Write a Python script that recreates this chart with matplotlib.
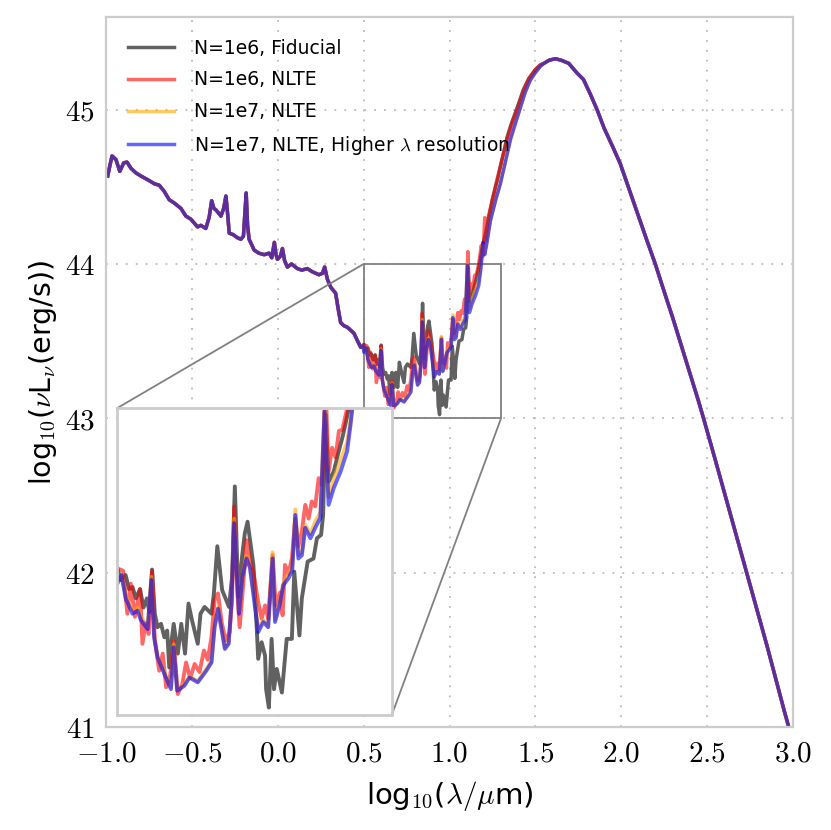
import numpy as np
import matplotlib.pyplot as plt
from matplotlib.ticker import FuncFormatter, MultipleLocator
from mpl_toolkits.axes_grid1.inset_locator import mark_inset

plt.rcParams['mathtext.fontset'] = 'cm'
plt.rcParams['font.family'] = 'DejaVu Sans'

# UV side, all runs agree here
lam_uv = [-0.99, -0.981, -0.965, -0.942, -0.92, -0.897, -0.878, -0.855, -0.826, -0.797,
          -0.758, -0.719, -0.69, -0.661, -0.632, -0.603, -0.564, -0.535, -0.506, -0.467,
          -0.448, -0.419, -0.40, -0.385, -0.372, -0.36, -0.345, -0.331, -0.315, -0.302,
          -0.29, -0.283, -0.26, -0.235, -0.215, -0.2, -0.19, -0.184, -0.176, -0.167,
          -0.15, -0.138, -0.11, -0.079, -0.05, -0.035, -0.02, -0.01, -0.002, 0.015,
          0.027, 0.04, 0.056, 0.08, 0.114, 0.14, 0.172, 0.2, 0.24, 0.26,
          0.273, 0.289, 0.308, 0.337, 0.35, 0.366, 0.385, 0.405, 0.425, 0.444,
          0.465, 0.483, 0.497]
lum_uv = [44.57, 44.62, 44.70, 44.676, 44.60, 44.655, 44.66, 44.62, 44.59, 44.57,
          44.546, 44.52, 44.51, 44.47, 44.416, 44.395, 44.36, 44.31, 44.29, 44.24,
          44.25, 44.23, 44.30, 44.41, 44.36, 44.35, 44.33, 44.31, 44.36, 44.44,
          44.30, 44.20, 44.19, 44.17, 44.16, 44.18, 44.35, 44.46, 44.25, 44.16,
          44.12, 44.09, 44.07, 44.06, 44.07, 44.04, 44.14, 44.06, 44.03, 44.05,
          44.10, 44.02, 43.98, 44.00, 43.97, 43.96, 43.97, 43.95, 43.93, 43.94,
          43.98, 43.90, 43.85, 43.81, 43.72, 43.62, 43.60, 43.59, 43.57, 43.55,
          43.50, 43.46, 43.47]

# IR side, all runs agree here
lam_ir = [1.55, 1.58, 1.616, 1.65, 1.694, 1.74, 1.78, 1.82, 1.859, 1.9,
          1.95, 1.994, 2.05, 2.1, 2.15, 2.198, 2.25, 2.3, 2.35, 2.4,
          2.45, 2.479, 2.55, 2.6, 2.65, 2.7, 2.73, 2.8, 2.85, 2.9,
          2.95, 2.975]
lum_ir = [45.30, 45.32, 45.33, 45.32, 45.30, 45.24, 45.195, 45.10, 45.0, 44.88,
          44.76, 44.65, 44.47, 44.31, 44.15, 44.0, 43.82, 43.65, 43.47, 43.29,
          43.11, 43.0, 42.72, 42.52, 42.32, 42.12, 42.0, 41.72, 41.52, 41.31,
          41.1, 41.0]

# middle part, N=1e6 fiducial
lam_fid = [0.501, 0.511, 0.525, 0.535, 0.545, 0.555, 0.567, 0.577, 0.587, 0.594,
           0.602, 0.61, 0.618, 0.628, 0.638, 0.646, 0.652, 0.659, 0.665, 0.677,
           0.687, 0.698, 0.708, 0.718, 0.735, 0.743, 0.755, 0.775, 0.782, 0.792,
           0.806, 0.826, 0.835, 0.843, 0.853, 0.864, 0.872, 0.88, 0.897, 0.906,
           0.911, 0.921, 0.931, 0.934, 0.942, 0.95, 0.957, 0.965, 0.98, 0.989,
           0.994, 1.009, 1.016, 1.031, 1.038, 1.055, 1.072, 1.082, 1.094, 1.1,
           1.107, 1.116, 1.131, 1.143, 1.156, 1.165, 1.175, 1.19, 1.21, 1.25,
           1.28, 1.3, 1.335, 1.36, 1.393, 1.43, 1.461, 1.5, 1.529]
lum_fid = [43.478, 43.44, 43.456, 43.41, 43.417, 43.38, 43.41, 43.35, 43.38, 43.335,
           43.474, 43.33, 43.286, 43.297, 43.253, 43.275, 43.155, 43.243, 43.297, 43.2,
           43.297, 43.2, 43.363, 43.31, 43.232, 43.33, 43.352, 43.33, 43.396, 43.55,
           43.407, 43.352, 43.45, 43.745, 43.385, 43.516, 43.592, 43.63, 43.489, 43.3,
           43.183, 43.237, 43.193, 43.084, 43.024, 43.248, 43.084, 43.15, 43.073, 43.183,
           43.248, 43.248, 43.467, 43.259, 43.38, 43.5, 43.51, 43.576, 43.587, 43.652,
           43.98, 43.76, 43.794, 43.849, 43.904, 43.948, 44.0, 44.1, 44.2, 44.42,
           44.55, 44.65, 44.82, 44.91, 45.01, 45.13, 45.2, 45.26, 45.29]

# middle part, N=1e6 NLTE
lam_n6 = [0.501, 0.518, 0.53, 0.54, 0.552, 0.567, 0.574, 0.583, 0.592, 0.602,
          0.61, 0.623, 0.633, 0.643, 0.655, 0.665, 0.677, 0.69, 0.701, 0.713,
          0.726, 0.74, 0.753, 0.764, 0.775, 0.784, 0.794, 0.805, 0.816, 0.828,
          0.835, 0.841, 0.85, 0.857, 0.867, 0.877, 0.887, 0.897, 0.911, 0.921,
          0.931, 0.94, 0.953, 0.962, 0.975, 0.982, 0.989, 0.999, 1.009, 1.019,
          1.028, 1.038, 1.048, 1.058, 1.067, 1.077, 1.087, 1.097, 1.107, 1.116,
          1.126, 1.136, 1.146, 1.156, 1.17, 1.185, 1.195, 1.205, 1.212, 1.225,
          1.25, 1.277, 1.3, 1.335, 1.36, 1.393, 1.43, 1.461, 1.5, 1.529]
lum_n6 = [43.478, 43.47, 43.33, 43.428, 43.32, 43.41, 43.232, 43.3, 43.264, 43.47,
          43.243, 43.144, 43.2, 43.09, 43.13, 43.24, 43.068, 43.1, 43.171, 43.12,
          43.166, 43.14, 43.21, 43.18, 43.253, 43.374, 43.396, 43.3, 43.243, 43.27,
          43.38, 43.68, 43.4, 43.286, 43.42, 43.57, 43.5, 43.467, 43.368, 43.314,
          43.357, 43.314, 43.521, 43.357, 43.4, 43.325, 43.489, 43.46, 43.51, 43.64,
          43.55, 43.598, 43.685, 43.64, 43.696, 43.68, 43.772, 43.75, 44.08, 43.794,
          43.871, 43.84, 43.926, 43.93, 44.0, 44.12, 44.05, 44.3, 44.15, 44.3,
          44.42, 44.55, 44.65, 44.81, 44.9, 45.0, 45.12, 45.2, 45.26, 45.29]

# middle part, N=1e7 runs (same wavelength points)
lam_n7 = [0.501, 0.513, 0.525, 0.545, 0.56, 0.569, 0.589, 0.6, 0.608, 0.618,
          0.638, 0.647, 0.657, 0.665, 0.675, 0.696, 0.711, 0.735, 0.76, 0.775,
          0.784, 0.794, 0.814, 0.825, 0.833, 0.841, 0.855, 0.865, 0.877, 0.887,
          0.901, 0.911, 0.926, 0.94, 0.953, 0.96, 0.973, 0.984, 0.999, 1.01,
          1.019, 1.028, 1.038, 1.048, 1.063, 1.077, 1.092, 1.104, 1.116, 1.131,
          1.151, 1.17, 1.18, 1.185, 1.195, 1.205, 1.215, 1.238, 1.27, 1.296,
          1.325, 1.355, 1.38, 1.409, 1.44, 1.47, 1.5, 1.529]
lum_n7 = [43.44, 43.456, 43.39, 43.34, 43.35, 43.32, 43.29, 43.45, 43.26, 43.19,
          43.14, 43.115, 43.09, 43.23, 43.085, 43.1, 43.125, 43.11, 43.15, 43.175,
          43.29, 43.35, 43.22, 43.235, 43.37, 43.64, 43.34, 43.45, 43.52, 43.48,
          43.37, 43.28, 43.31, 43.29, 43.53, 43.31, 43.365, 43.43, 43.46, 43.48,
          43.67, 43.52, 43.53, 43.62, 43.59, 43.63, 43.66, 44.0, 43.71, 43.77,
          43.83, 43.89, 43.96, 44.0, 44.12, 44.07, 44.12, 44.28, 44.42, 44.52,
          44.66, 44.8, 44.89, 45.0, 45.11, 45.19, 45.24, 45.28]
lum_n7hr = [43.428, 43.456, 43.38, 43.33, 43.34, 43.31, 43.28, 43.44, 43.253, 43.188,
            43.133, 43.11, 43.084, 43.22, 43.079, 43.095, 43.122, 43.106, 43.144, 43.171,
            43.286, 43.346, 43.215, 43.232, 43.363, 43.625, 43.33, 43.45, 43.51, 43.48,
            43.357, 43.27, 43.303, 43.286, 43.51, 43.303, 43.357, 43.423, 43.445, 43.47,
            43.652, 43.51, 43.52, 43.61, 43.576, 43.61, 43.643, 43.99, 43.685, 43.74,
            43.794, 43.86, 43.948, 44.0, 44.14, 44.06, 44.12, 44.28, 44.42, 44.52,
            44.66, 44.81, 44.9, 45.0, 45.11, 45.19, 45.24, 45.28]

labels = ['N=1e6, Fiducial', 'N=1e6, NLTE', 'N=1e7, NLTE',
          r'N=1e7, NLTE, Higher $\lambda$ resolution']
colors = ['k', 'red', 'orange', 'blue']
alphas = [0.62, 0.6, 0.6, 0.6]


def full(lam_mid, lum_mid):
    x = np.concatenate([lam_uv, lam_mid, lam_ir])
    y = np.concatenate([lum_uv, lum_mid, lum_ir])
    return x, y


series = [full(lam_fid, lum_fid), full(lam_n6, lum_n6),
          full(lam_n7, lum_n7), full(lam_n7, lum_n7hr)]

fig = plt.figure(figsize=(8.31, 8.30), dpi=100)
ax = fig.add_axes([0.1276, 0.1241, 0.8267, 0.8554])
ax.set_axisbelow(True)

for (x, y), c, a, lab in zip(series, colors, alphas, labels):
    ax.plot(x, y, color=c, alpha=a, lw=2.5, label=lab)

ax.set_xlim(-1.0, 3.0)
ax.set_ylim(41, 45.6)
ax.xaxis.set_major_locator(MultipleLocator(0.5))
ax.yaxis.set_major_locator(MultipleLocator(1))
ax.xaxis.set_major_formatter(FuncFormatter(lambda v, p: r'$%.1f$' % v))
ax.yaxis.set_major_formatter(FuncFormatter(lambda v, p: r'$%d$' % round(v)))
ax.tick_params(length=0, pad=8, labelsize=21)
ax.tick_params(axis='x', pad=9)
ax.grid(True, color='#bbbbbb', lw=1.3, ls=(0, (1, 4.5)))
for s in ax.spines.values():
    s.set_color('#cccccc')
    s.set_linewidth(1.6)

ax.set_xlabel(r'log$_{10}$($\lambda/\mu$m)', fontsize=21, labelpad=8)
ax.set_ylabel(r'log$_{10}$($\nu$L$_\nu$(erg/s))', fontsize=20.5)

ax.legend(loc='upper left', frameon=False, fontsize=13.5, handlelength=2.5,
          labelspacing=0.68, handletextpad=1.05, borderaxespad=0.75)

# zoomed inset
axins = ax.inset_axes([0.016, 0.017, 0.40, 0.432])
for (x, y), c, a in zip(series, colors, alphas):
    axins.plot(x, y, color=c, alpha=a, lw=2.8)
axins.set_xlim(0.5, 1.3)
axins.set_ylim(43, 44)
axins.set_xticks([])
axins.set_yticks([])
for s in axins.spines.values():
    s.set_color('#cccccc')
    s.set_linewidth(2)

mark_inset(ax, axins, loc1=2, loc2=4, fc='none', ec='0.5', lw=1.3)

fig.savefig('out.png', dpi=100)
